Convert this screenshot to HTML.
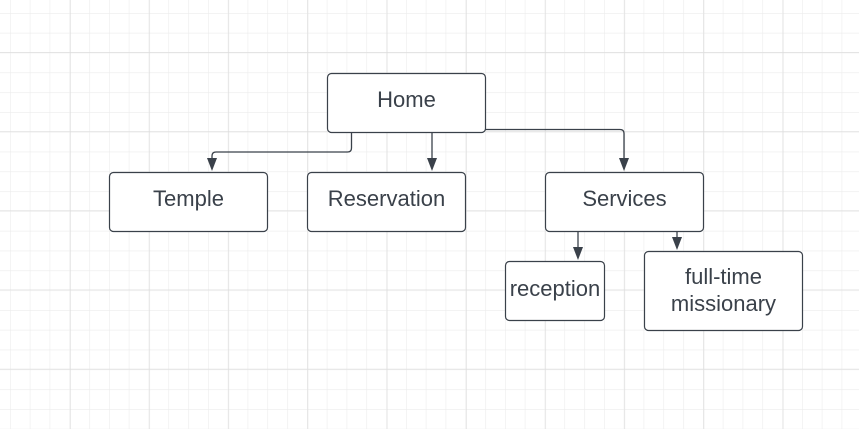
<!DOCTYPE html>
<html><head><meta charset="utf-8"><style>
html,body{margin:0;padding:0;background:#fff;}
svg{display:block;}
text{font-family:"Liberation Sans",Arial,sans-serif;font-size:22px;fill:#3a414a;}
</style></head><body>
<svg width="859" height="429" viewBox="0 0 859 429" xmlns="http://www.w3.org/2000/svg">
<defs>
<pattern id="minor" x="10" y="13" width="19.8" height="19.8" patternUnits="userSpaceOnUse">
<path d="M0 0H19.8M0 0V19.8" stroke="#ececec" stroke-width="1.2" fill="none"/>
</pattern>
<pattern id="major" x="70" y="52" width="79.2" height="79.2" patternUnits="userSpaceOnUse">
<path d="M0 0H79.2M0 0V79.2" stroke="#dcdcdc" stroke-width="1.2" fill="none"/>
</pattern>
</defs>
<rect width="859" height="429" fill="#fff"/>
<rect width="859" height="429" fill="url(#minor)"/>
<rect width="859" height="429" fill="url(#major)"/>
<g fill="none" stroke="#3a414a" stroke-width="1.3">
<path d="M351.5 132V148Q351.5 152 347.5 152H216Q212 152 212 156V160" />
<path d="M432 132V160"/>
<path d="M485 129.5H620Q624 129.5 624 133.5V160"/>
<path d="M578 231V249"/>
<path d="M677 231V239"/>
</g>
<g fill="#3a414a">
<path d="M207 158L217 158L212 171Z"/>
<path d="M427 158L437 158L432 171Z"/>
<path d="M619 158L629 158L624 171Z"/>
<path d="M573 247L583 247L578 260Z"/>
<path d="M672 237L682 237L677 250Z"/>
</g>
<g fill="#fff" stroke="#3a414a" stroke-width="1.2">
<rect x="327.5" y="73.5" width="158" height="59" rx="4"/>
<rect x="109.5" y="172.5" width="158" height="59" rx="4"/>
<rect x="307.5" y="172.5" width="158" height="59" rx="4"/>
<rect x="545.5" y="172.5" width="158" height="59" rx="4"/>
<rect x="505.5" y="261.5" width="99" height="59" rx="4"/>
<rect x="644.5" y="251.5" width="158" height="79" rx="4"/>
</g>
<g text-anchor="middle">
<text x="406.5" y="107">Home</text>
<text x="188.5" y="206">Temple</text>
<text x="386.5" y="206">Reservation</text>
<text x="624.5" y="206">Services</text>
<text x="555" y="296">reception</text>
<text x="723.5" y="284">full-time</text>
<text x="723.5" y="311">missionary</text>
</g>
</svg>
</body></html>
